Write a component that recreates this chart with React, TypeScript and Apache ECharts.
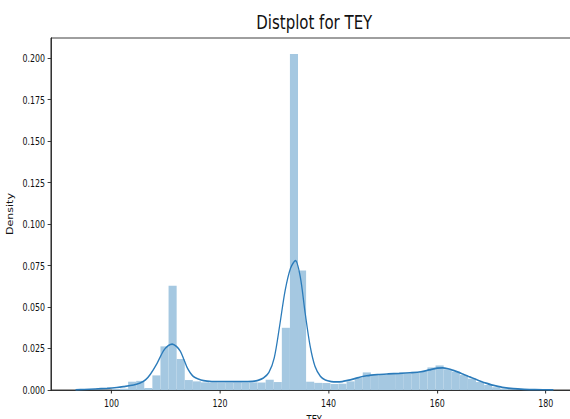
import React, { useEffect, useRef } from "react";
import * as echarts from "echarts";

// Histogram (50 equal-width bins)
const HIST_START = 100.1;
const HIST_WIDTH = 1.49;
const histHeights = [
  0.0005, 0.0008, 0.005, 0.0055, 0.0012, 0.0088, 0.0263, 0.0628, 0.0187, 0.006,
  0.0052, 0.0046, 0.0043, 0.0042, 0.0043, 0.0044, 0.0043, 0.0046, 0.0045, 0.0062,
  0.0048, 0.0375, 0.2026, 0.072, 0.005, 0.0043, 0.0042, 0.0036, 0.0038, 0.0052,
  0.0072, 0.0106, 0.0088, 0.0092, 0.0096, 0.0098, 0.01, 0.0105, 0.0112, 0.0136,
  0.0148, 0.0125, 0.011, 0.009, 0.0068, 0.0048, 0.003, 0.0017, 0.0008, 0.0004,
];

// KDE curve
const kdeX = [
  93.4, 95, 97, 99.2, 101, 102.2, 104.1, 105.3, 106.3, 107.2, 108.4, 109.6, 110.5,
  111.2, 112, 112.7, 113.3, 113.9, 114.5, 115.1, 116, 117, 118.5, 120, 122, 124,
  126, 127, 128, 129, 130, 131, 132, 133, 133.9, 134.8, 135.7, 136.6, 137.5, 138.5,
  139.4, 140.5, 141.5, 142.5, 143.5, 144.5, 145.5, 147, 149, 151, 153, 155, 157,
  158.5, 160, 161, 162, 163, 164, 165, 166, 167, 168, 169, 170, 171, 172, 174, 176,
  178, 181.4,
];
const kdeY = [
  0.0001, 0.0003, 0.0006, 0.001, 0.0015, 0.002, 0.003, 0.0042, 0.0062, 0.0096,
  0.016, 0.0237, 0.0268, 0.0277, 0.0262, 0.0233, 0.0188, 0.0139, 0.0105, 0.0082,
  0.0066, 0.0056, 0.0051, 0.005, 0.005, 0.005, 0.0052, 0.0058, 0.0072, 0.0105,
  0.0195, 0.039, 0.06, 0.0735, 0.078, 0.068, 0.046, 0.0265, 0.0142, 0.0082, 0.006,
  0.0051, 0.0049, 0.0051, 0.0058, 0.0066, 0.0075, 0.0086, 0.0093, 0.0097, 0.01,
  0.0104, 0.011, 0.0121, 0.0132, 0.0133, 0.0128, 0.0118, 0.0106, 0.0092, 0.0079,
  0.0066, 0.0053, 0.0041, 0.0031, 0.0023, 0.0016, 0.0008, 0.0004, 0.0002, 0.0001,
];

const xTicks = [100, 120, 140, 160, 180];
const yTicks = [0, 0.025, 0.05, 0.075, 0.1, 0.125, 0.15, 0.175, 0.2];

const FONT = "'DejaVu Sans', sans-serif";
// the reference figure is horizontally compressed
const SQUISH = 0.75;

export default function App() {
  const ref = useRef<HTMLDivElement>(null);
  useEffect(() => {
    if (!ref.current) return;
    const chart = echarts.init(ref.current, null, { renderer: "svg" });
    const histData = histHeights.map((h, i) => [
      HIST_START + i * HIST_WIDTH,
      HIST_START + (i + 1) * HIST_WIDTH,
      h,
    ]);
    chart.setOption({
      animation: false,
      backgroundColor: "#ffffff",
      grid: {
        left: 68,
        top: 38,
        right: 1,
        bottom: 29,
        show: true,
        borderColor: "#222",
        borderWidth: 1,
        backgroundColor: "transparent",
        containLabel: false,
        outerBoundsMode: "none",
      },
      graphic: [
        {
          type: "text",
          x: 419,
          y: 22,
          style: {
            text: "Distplot for TEY",
            align: "center",
            verticalAlign: "middle",
            fontSize: 20,
            fontFamily: FONT,
            fill: "#111",
          },
        },
      ],
      xAxis: {
        type: "value",
        min: 88.88,
        max: 185.84,
        name: "TEY",
        nameLocation: "middle",
        nameGap: 19,
        nameTextStyle: { fontSize: 11, fontFamily: FONT, color: "#111" },
        axisLine: { show: true, lineStyle: { color: "#222", width: 1 } },
        axisTick: {
          show: true,
          customValues: xTicks,
          length: 3.5,
          inside: false,
          lineStyle: { color: "#222", width: 1.3 },
        },
        axisLabel: {
          customValues: xTicks,
          fontSize: 10.5,
          fontFamily: FONT,
          color: "#111",
          margin: 8,
        },
        splitLine: { show: false },
      },
      yAxis: {
        type: "value",
        min: 0,
        max: 0.2122,
        name: "Density",
        nameLocation: "middle",
        nameGap: 35,
        nameTextStyle: { fontSize: 11, fontFamily: FONT, color: "#111" },
        axisLine: { show: true, lineStyle: { color: "#222", width: 1.3 } },
        axisTick: {
          show: true,
          customValues: yTicks,
          length: 4.5,
          inside: false,
          lineStyle: { color: "#222" },
        },
        axisLabel: {
          customValues: yTicks,
          fontSize: 10.5,
          fontFamily: FONT,
          color: "#111",
          margin: 8,
          formatter: (v: number) => v.toFixed(3),
        },
        splitLine: { show: false },
      },
      series: [
        {
          type: "custom",
          data: histData,
          encode: { x: [0, 1], y: 2 },
          z: 1,
          renderItem: (params: any, api: any) => {
            const p0 = api.coord([api.value(0), api.value(2)]);
            const p1 = api.coord([api.value(1), 0]);
            return {
              type: "rect",
              shape: {
                x: p0[0],
                y: p0[1],
                width: p1[0] - p0[0],
                height: p1[1] - p0[1],
              },
              style: { fill: "#a5c8e1" },
            };
          },
        },
        {
          type: "line",
          data: kdeX.map((x, i) => [x, kdeY[i]]),
          showSymbol: false,
          smooth: 0.3,
          z: 3,
          lineStyle: { color: "#2b7bba", width: 1.7 },
        },
      ],
    });
    return () => chart.dispose();
  }, []);
  return (
    <div
      style={{
        position: "absolute",
        left: 0,
        top: 0,
        width: 570,
        height: 419,
        overflow: "hidden",
        background: "#fff",
      }}
    >
      <div
        ref={ref}
        style={{
          width: 771,
          height: 419,
          transform: `scaleX(${SQUISH})`,
          transformOrigin: "0 0",
        }}
      />
    </div>
  );
}
